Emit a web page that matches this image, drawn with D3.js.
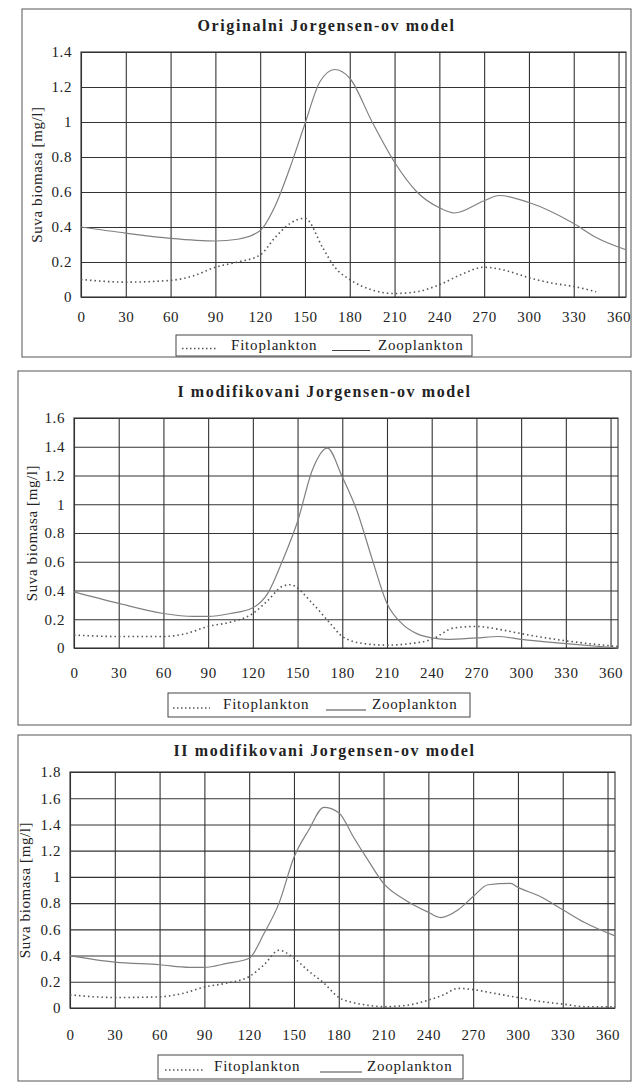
<!DOCTYPE html>
<html>
<head>
<meta charset="utf-8">
<script src="https://cdn.jsdelivr.net/npm/d3@7"></script>
<style>
  body { margin: 0; background: #fff; }
  svg text { font-family: "Liberation Serif", "DejaVu Serif", serif !important; fill: #222; }
</style>
</head>
<body>
<script>
// day ticks and labels
const xTicks = [0, 30, 60, 90, 120, 150, 180, 210, 240, 270, 300, 330, 360];
const titles = ["Originalni Jorgensen-ov model", "I modifikovani Jorgensen-ov model", "II modifikovani Jorgensen-ov model"];
const yMax = [1.4, 1.6, 1.8];
const seriesNames = ["Fitoplankton", "Zooplankton"];
const yLabel = "Suva biomasa [mg/l]";

// chart 1
const zooDays1 = [0, 30, 60, 90, 105, 120, 130, 140, 150, 160, 170, 180, 195, 210, 225, 240, 250, 270, 280, 300, 330, 345, 365];
const zoo1 = [0.40, 0.365, 0.335, 0.32, 0.33, 0.38, 0.52, 0.74, 0.99, 1.23, 1.30, 1.25, 1.00, 0.77, 0.60, 0.51, 0.48, 0.55, 0.58, 0.54, 0.42, 0.34, 0.27];
const fitoDays1 = [0, 30, 60, 75, 90, 105, 120, 130, 140, 150, 162, 170, 180, 195, 210, 225, 240, 255, 270, 285, 300, 315, 330, 345];
const fito1 = [0.10, 0.085, 0.095, 0.12, 0.17, 0.20, 0.24, 0.34, 0.42, 0.45, 0.28, 0.17, 0.10, 0.04, 0.02, 0.03, 0.07, 0.13, 0.17, 0.15, 0.11, 0.08, 0.06, 0.03];

// chart 2
const zooDays2 = [0, 30, 60, 80, 90, 105, 120, 130, 140, 150, 160, 170, 180, 190, 200, 210, 220, 230, 240, 250, 270, 285, 300, 330, 365];
const zoo2 = [0.39, 0.31, 0.24, 0.22, 0.22, 0.24, 0.28, 0.38, 0.61, 0.88, 1.24, 1.39, 1.19, 0.95, 0.62, 0.31, 0.17, 0.10, 0.07, 0.06, 0.07, 0.08, 0.06, 0.03, 0.0];
const fitoDays2 = [0, 30, 60, 75, 90, 105, 120, 130, 140, 145, 160, 172, 180, 195, 210, 225, 240, 255, 270, 285, 300, 330, 365];
const fito2 = [0.09, 0.08, 0.08, 0.10, 0.15, 0.18, 0.24, 0.33, 0.43, 0.44, 0.31, 0.17, 0.08, 0.03, 0.02, 0.03, 0.06, 0.14, 0.15, 0.13, 0.10, 0.05, 0.01];

// chart 3
const zooDays3 = [0, 30, 60, 80, 90, 105, 120, 130, 140, 150, 160, 170, 180, 190, 200, 210, 225, 240, 248, 260, 270, 280, 295, 300, 315, 330, 345, 365];
const zoo3 = [0.40, 0.35, 0.33, 0.31, 0.31, 0.34, 0.38, 0.57, 0.80, 1.15, 1.36, 1.53, 1.49, 1.30, 1.12, 0.95, 0.82, 0.73, 0.69, 0.75, 0.85, 0.94, 0.95, 0.92, 0.85, 0.75, 0.65, 0.55];
const fitoDays3 = [0, 30, 60, 75, 90, 105, 120, 130, 140, 150, 160, 170, 180, 190, 200, 210, 225, 240, 250, 260, 270, 285, 300, 315, 330, 345, 365];
const fito3 = [0.10, 0.08, 0.085, 0.11, 0.16, 0.19, 0.24, 0.33, 0.44, 0.38, 0.28, 0.19, 0.08, 0.04, 0.02, 0.01, 0.02, 0.06, 0.10, 0.15, 0.14, 0.11, 0.08, 0.05, 0.03, 0.01, 0.01];

const svg = d3.select("body").append("svg")
    .attr("width", 634)
    .attr("height", 1086);

// where each panel sits on the page
const panels = [
    { box: [22, 9, 631, 357], x: [81, 626], y: [297, 52], titleY: 31, xPad: 14, labelX: 42,
      legend: [176, 335, 472, 356], marks: [182, 217, 231, 332, 370, 378],
      fito: [fitoDays1, fito1], zoo: [zooDays1, zoo1] },
    { box: [18, 371, 631, 725], x: [74, 618], y: [648, 418], titleY: 397, xPad: 19, labelX: 37,
      legend: [168, 693, 470, 717], marks: [173, 210, 223, 326, 366, 372],
      fito: [fitoDays2, fito2], zoo: [zooDays2, zoo2] },
    { box: [18, 735, 631, 1081], x: [70, 615], y: [1008, 772], titleY: 756, xPad: 21, labelX: 30,
      legend: [158, 1055, 463, 1079], marks: [165, 205, 214, 320, 362, 367],
      fito: [fitoDays3, fito3], zoo: [zooDays3, zoo3] }
];

panels.forEach(function (p, i) {
    const g = svg.append("g");

    // outer frame
    g.append("rect")
        .attr("x", p.box[0]).attr("y", p.box[1])
        .attr("width", p.box[2] - p.box[0]).attr("height", p.box[3] - p.box[1])
        .attr("fill", "none").attr("stroke", "#555").attr("stroke-width", 1);

    const x = d3.scaleLinear().domain([0, 365]).range(p.x);
    const y = d3.scaleLinear().domain([0, yMax[i]]).range(p.y);
    const yTicks = d3.range(0, yMax[i] + 0.001, 0.2);

    // grid + axes
    const xAxis = g.append("g")
        .attr("transform", `translate(0,${p.y[0]})`)
        .call(d3.axisBottom(x).tickValues(xTicks).tickSize(-(p.y[0] - p.y[1])).tickPadding(p.xPad)
            .tickFormat(d3.format("d")));
    const yAxis = g.append("g")
        .attr("transform", `translate(${p.x[0]},0)`)
        .call(d3.axisLeft(y).tickValues(yTicks).tickSize(-(p.x[1] - p.x[0])).tickPadding(9)
            .tickFormat(function (d) { return d3.format("~g")(+d.toFixed(1)); }));
    [xAxis, yAxis].forEach(function (a) {
        a.select(".domain").remove();
        a.selectAll("line").attr("stroke", "#333").attr("stroke-width", 1.1);
        a.selectAll("text").style("font-size", "15px").style("letter-spacing", "0.6px").attr("fill", "#222");
    });

    g.append("rect")
        .attr("x", p.x[0]).attr("y", p.y[1])
        .attr("width", p.x[1] - p.x[0]).attr("height", p.y[0] - p.y[1])
        .attr("fill", "none").attr("stroke", "#333").attr("stroke-width", 1.1);

    // series
    const line = d3.line()
        .x(function (d) { return x(d[0]); })
        .y(function (d) { return y(d[1]); })
        .curve(d3.curveMonotoneX);

    g.append("path")
        .datum(d3.zip(p.zoo[0], p.zoo[1]))
        .attr("d", line)
        .attr("fill", "none").attr("stroke", "#808080").attr("stroke-width", 1.2);

    g.append("path")
        .datum(d3.zip(p.fito[0], p.fito[1]))
        .attr("d", line)
        .attr("fill", "none").attr("stroke", "#555").attr("stroke-width", 1.6)
        .attr("stroke-dasharray", "1.5,3");

    // title
    g.append("text")
        .attr("x", (p.box[0] + p.box[2]) / 2).attr("y", p.titleY)
        .attr("text-anchor", "middle")
        .style("font-size", "16px").style("font-weight", "bold").style("letter-spacing", "1.6px")
        .text(titles[i]);

    // y label
    g.append("text")
        .attr("transform", `translate(${p.labelX},${(p.y[0] + p.y[1]) / 2}) rotate(-90)`)
        .attr("text-anchor", "middle")
        .style("font-size", "15px").style("letter-spacing", "0.6px")
        .text(yLabel);

    // legend
    const L = p.legend, m = p.marks;
    const ly = (L[1] + L[3]) / 2;
    g.append("rect")
        .attr("x", L[0]).attr("y", L[1])
        .attr("width", L[2] - L[0]).attr("height", L[3] - L[1])
        .attr("fill", "#fff").attr("stroke", "#444").attr("stroke-width", 1);
    g.append("line")
        .attr("x1", m[0]).attr("x2", m[1])
        .attr("y1", ly + 3).attr("y2", ly + 3)
        .attr("stroke", "#555").attr("stroke-width", 1.4).attr("stroke-dasharray", "1.5,2.5");
    g.append("text")
        .attr("x", m[2]).attr("y", ly + 4)
        .style("font-size", "15px").style("letter-spacing", "0.8px")
        .text(seriesNames[0]);
    g.append("line")
        .attr("x1", m[3]).attr("x2", m[4])
        .attr("y1", ly + 5).attr("y2", ly + 5)
        .attr("stroke", "#444").attr("stroke-width", 1.1);
    g.append("text")
        .attr("x", m[5]).attr("y", ly + 4)
        .style("font-size", "15px").style("letter-spacing", "0.8px")
        .text(seriesNames[1]);
});
</script>
</body>
</html>
